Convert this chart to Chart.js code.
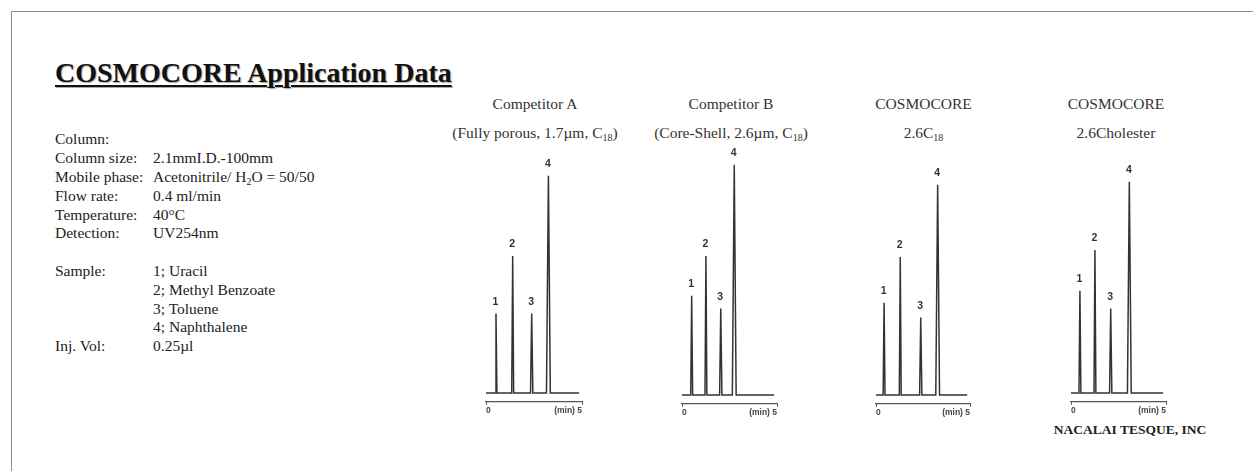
<!DOCTYPE html>
<html>
<head>
<meta charset="utf-8">
<script src="https://cdn.jsdelivr.net/npm/chart.js@4.4.1/dist/chart.umd.min.js"></script>
<style>
html,body{margin:0;padding:0;background:#fff;}
body{width:1253px;height:471px;position:relative;overflow:hidden;font-family:"Liberation Serif","Times New Roman",serif;color:#222;}
.frame{position:absolute;left:11px;top:11px;width:1300px;height:500px;border-top:1px solid #8c8c8c;border-left:1px solid #8c8c8c;}
.title{position:absolute;left:55px;top:59px;font-size:28px;line-height:28px;font-weight:bold;color:#111;text-decoration:underline;text-decoration-thickness:2px;text-underline-offset:3px;white-space:nowrap;text-shadow:1px 1px 1px #aaa;}
.cond{position:absolute;left:55px;top:130.4px;font-size:15.5px;line-height:18.8px;}
.row{position:relative;height:18.8px;white-space:nowrap;}
.row .v{position:absolute;left:98px;top:0;}
sub{font-size:10px;line-height:0;vertical-align:-3px;}
.hdr{position:absolute;width:240px;text-align:center;font-size:15.5px;line-height:20px;color:#333;white-space:nowrap;}
.foot{position:absolute;width:240px;text-align:center;font-size:13.5px;line-height:16px;font-weight:bold;color:#222;white-space:nowrap;}
canvas{position:absolute;}
</style>
</head>
<body>
<div class="frame"></div>
<div class="title">COSMOCORE Application Data</div>
<div class="cond" id="cond"></div>
<div id="hdrs"></div>
<div class="foot" id="foot"></div>
<script>
// ---------- data ----------
const conditionLabels = ['Column:', 'Column size:', 'Mobile phase:', 'Flow rate:', 'Temperature:', 'Detection:'];
const conditionValues = ['', '2.1mmI.D.-100mm', 'Acetonitrile/ H<sub>2</sub>O = 50/50', '0.4 ml/min', '40°C', 'UV254nm'];
const peakNumbers = ['1', '2', '3', '4'];
const compounds = ['Uracil', 'Methyl Benzoate', 'Toluene', 'Naphthalene'];
const injectionVolume = '0.25µl';

const columnNames = ['Competitor A', 'Competitor B', 'COSMOCORE', 'COSMOCORE'];
const columnDetails = ['(Fully porous, 1.7µm, C<sub>18</sub>)', '(Core-Shell, 2.6µm, C<sub>18</sub>)', '2.6C<sub>18</sub>', '2.6Cholester'];
const footerText = 'NACALAI TESQUE, INC';

// retention times (min)
const timesA = [0.52, 1.39, 2.38, 3.25];
const timesB = [0.51, 1.26, 2.04, 2.75];
const timesC = [0.43, 1.29, 2.38, 3.28];
const timesD = [0.47, 1.26, 2.09, 3.07];
// peak heights (arbitrary units)
const heightsA = [80, 138, 80, 219];
const heightsB = [100, 140, 87, 232];
const heightsC = [93, 139, 78, 212];
const heightsD = [103, 144, 85, 213];
// peak base widths (min)
const peakWidths = [0.1, 0.1, 0.12, 0.2];
const runStart = 0, runEnd = 4.85;
const xTicks = [0, 5];
const xTickLabels = ['0', '(min) 5'];
const yMin = -9, yMax = 251;

const seriesTimes = [timesA, timesB, timesC, timesD];
const seriesHeights = [heightsA, heightsB, heightsC, heightsD];

// ---------- layout (positions only) ----------
const panels = [
  {left: 486, right: 582, base: 394, center: 535},
  {left: 682, right: 777, base: 396, center: 731},
  {left: 876, right: 970, base: 396, center: 923.5},
  {left: 1071, right: 1166, base: 394, center: 1116}
];

// ---------- conditions text ----------
const cond = document.getElementById('cond');
function addRow(label, value) {
  const r = document.createElement('div');
  r.className = 'row';
  r.innerHTML = '<span>' + label + '</span><span class="v">' + value + '</span>';
  cond.appendChild(r);
}
conditionLabels.forEach((l, i) => addRow(l, conditionValues[i]));
addRow('', '');
compounds.forEach((c, i) => addRow(i === 0 ? 'Sample:' : '', peakNumbers[i] + '; ' + c));
addRow('Inj. Vol:', injectionVolume);

// ---------- headers ----------
const hdrs = document.getElementById('hdrs');
panels.forEach((p, i) => {
  const a = document.createElement('div');
  a.className = 'hdr';
  a.style.left = (p.center - 120) + 'px';
  a.style.top = '94.3px';
  a.innerHTML = columnNames[i];
  hdrs.appendChild(a);
  const b = document.createElement('div');
  b.className = 'hdr';
  b.style.left = (p.center - 120) + 'px';
  b.style.top = '123.3px';
  b.innerHTML = columnDetails[i];
  hdrs.appendChild(b);
});
const foot = document.getElementById('foot');
foot.textContent = footerText;
foot.style.left = (1130 - 120) + 'px';
foot.style.top = '422.4px';

// ---------- chromatograms ----------
function buildPoints(times, heights) {
  const pts = [{x: runStart, y: 0}];
  times.forEach((t, i) => {
    const w = peakWidths[i] / 2;
    pts.push({x: t - w, y: 0});
    pts.push({x: t, y: heights[i]});
    pts.push({x: t + w, y: 0});
  });
  pts.push({x: runEnd, y: 0});
  return pts;
}

function labelPlugin(times, heights) {
  return {
    id: 'peakLabels',
    afterDatasetsDraw(chart) {
      const c = chart.ctx, xs = chart.scales.x, ys = chart.scales.y;
      c.save();
      c.fillStyle = '#333';
      c.font = 'bold 10.5px "Liberation Sans", Arial, sans-serif';
      c.textAlign = 'center';
      c.textBaseline = 'middle';
      times.forEach((t, i) => {
        c.fillText(peakNumbers[i], xs.getPixelForValue(t) - 0.5, ys.getPixelForValue(heights[i]) - 11.5);
      });
      c.restore();
    }
  };
}

const PAD = 4, CH = 273;
panels.forEach((p, i) => {
  const cv = document.createElement('canvas');
  cv.width = p.right - p.left + PAD * 2;
  cv.height = CH;
  cv.style.left = (p.left - PAD) + 'px';
  cv.style.top = Math.round(p.base - 250.4) + 'px';
  document.body.appendChild(cv);
  new Chart(cv.getContext('2d'), {
    type: 'line',
    data: {datasets: [{
      data: buildPoints(seriesTimes[i], seriesHeights[i]),
      borderColor: '#333', borderWidth: 1.5, pointRadius: 0, tension: 0, fill: false
    }]},
    options: {
      responsive: false, animation: false, events: [],
      layout: {padding: {left: PAD, right: PAD, top: 0, bottom: 0}},
      plugins: {legend: {display: false}, tooltip: {enabled: false}},
      scales: {
        x: {
          type: 'linear', min: 0, max: 5,
          afterBuildTicks: s => { s.ticks = xTicks.map(v => ({value: v})); },
          grid: {display: true, drawOnChartArea: false, drawTicks: true, tickLength: 3, color: '#555'},
          border: {display: true, color: '#555', width: 1.2},
          ticks: {
            align: 'inner', padding: 1, maxRotation: 0, autoSkip: false, color: '#444',
            font: {family: '"Liberation Sans", Arial, sans-serif', size: 8.5, weight: 'bold'},
            callback: (v, idx) => xTickLabels[idx]
          }
        },
        y: {display: false, min: yMin, max: yMax}
      }
    },
    plugins: [labelPlugin(seriesTimes[i], seriesHeights[i])]
  });
});
</script>
</body>
</html>
